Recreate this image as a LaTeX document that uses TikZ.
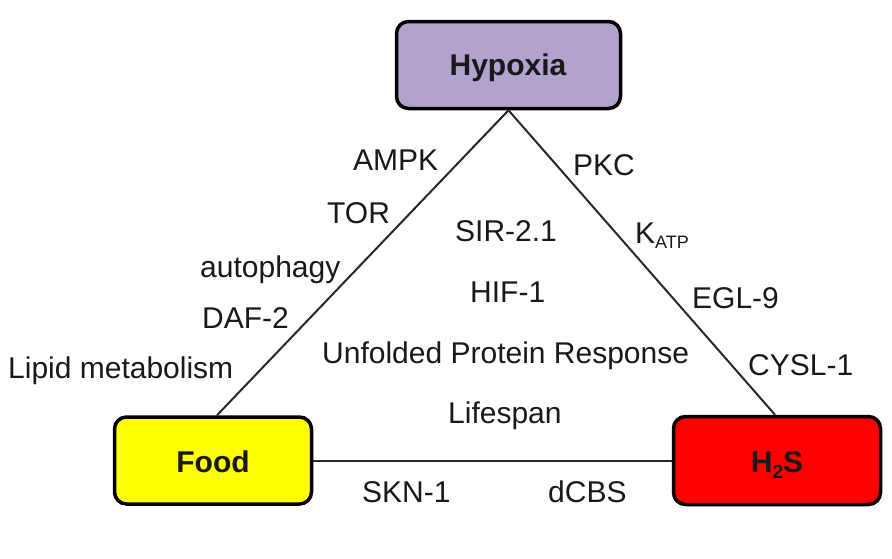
\documentclass[tikz,border=0pt]{standalone}
\usepackage{fontspec}
\setmainfont{Liberation Sans}
\definecolor{hypo}{RGB}{178,162,206}
\definecolor{foodc}{RGB}{255,255,0}
\definecolor{hsc}{RGB}{255,0,0}
\definecolor{linec}{RGB}{40,40,40}
\definecolor{txt}{RGB}{25,25,25}
\begin{document}
\begin{tikzpicture}[x=1pt,y=-1pt,
  box/.style={draw=black,line width=3.5pt,rounded corners=12pt,inner sep=0pt,
    font=\fontsize{30}{36}\selectfont\bfseries,text=txt},
  lbl/.style={anchor=base west,inner sep=0pt,font=\fontsize{30}{36}\selectfont,text=txt},
  link/.style={draw=linec,line width=2pt}]
\useasboundingbox (0,0) rectangle (892,558);
\node[box,fill=hypo,minimum width=224pt,minimum height=87pt] (hyp) at (508.5,65) {};
\node[box,fill=foodc,minimum width=197pt,minimum height=87pt] (food) at (213,460.5) {};
\node[box,fill=hsc,minimum width=207pt,minimum height=88pt] (hs) at (777,460.5) {};
\node[lbl,anchor=base] (thyp) at (508,75) {\bfseries Hypoxia};
\node[lbl,anchor=base] (tfood) at (213,472) {\bfseries Food};
\node[lbl,anchor=base] (ths) at (777,472) {\bfseries H\raisebox{-6pt}{\fontsize{19}{20}\selectfont 2}S};
\draw[link] (hyp.south) -- (food.north -| 217,0);
\draw[link] (hyp.south) -- (hs.north -| 775,0);
\draw[link] (food.east) -- (hs.west);
\node[lbl] (ampk) at (353,170) {AMPK};
\node[lbl] (tor) at (327,223) {TOR};
\node[lbl] (auto) at (200,277) {autophagy};
\node[lbl] (daf) at (202,328) {DAF-2};
\node[lbl] (lipid) at (8,378) {Lipid metabolism};
\node[lbl] (pkc) at (573,175) {PKC};
\node[lbl] (katp) at (635,243) {K\raisebox{-5pt}{\fontsize{18}{20}\selectfont ATP}};
\node[lbl] (egl) at (692,308) {EGL-9};
\node[lbl] (cysl) at (748,375) {CYSL-1};
\node[lbl] (sir) at (455,241) {SIR-2.1};
\node[lbl] (hif) at (470,302) {HIF-1};
\node[lbl] (upr) at (322,363) {Unfolded Protein Response};
\node[lbl] (life) at (448,423) {Lifespan};
\node[lbl] (skn) at (362,502) {SKN-1};
\node[lbl] (dcbs) at (548,502) {dCBS};
\end{tikzpicture}
\end{document}
